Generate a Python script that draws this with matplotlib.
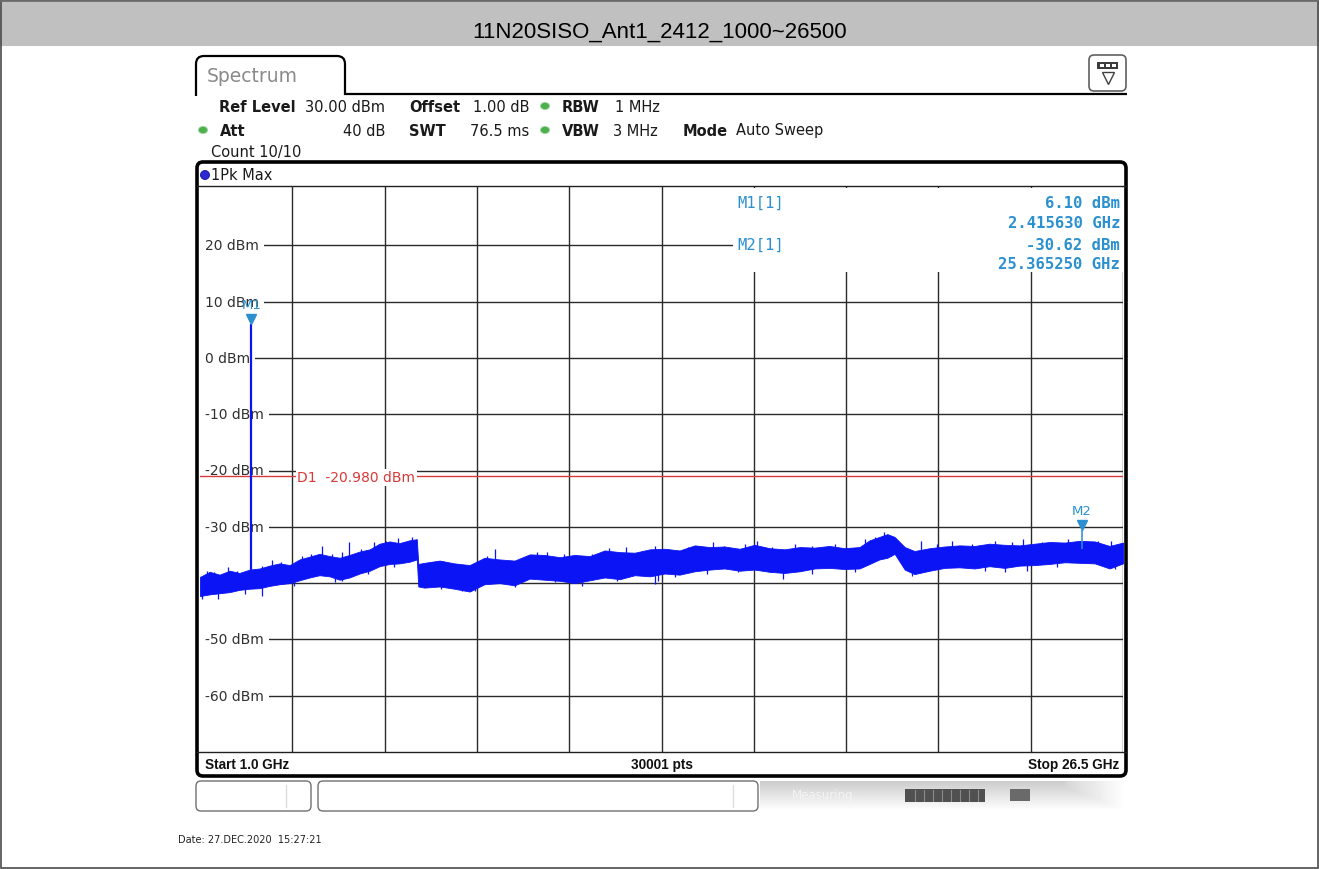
import numpy as np
import matplotlib.pyplot as plt
import matplotlib.transforms as mtransforms
from matplotlib.patches import Rectangle, FancyBboxPatch, Ellipse, PathPatch
from matplotlib.path import Path

# ---- data ----
start_ghz, stop_ghz = 1.0, 26.5
n_points = 30001
ref_level_dbm = 30.0
y_levels = [20, 10, 0, -10, -20, -30, -40, -50, -60]

# envelope of the peak-hold trace (GHz, dBm)
trace_ghz = [1.00, 1.27, 1.54, 1.82, 2.09, 2.37, 2.65, 2.92, 3.20, 3.48, 3.75, 4.03,
             4.30, 4.58, 4.86, 5.13, 5.41, 5.69, 5.96, 6.24, 6.51, 6.79, 6.99,
             7.03, 7.20, 7.62, 8.03, 8.45, 8.86, 9.28, 9.69, 10.11, 10.52, 10.94,
             11.35, 11.77, 12.18, 12.60, 13.01, 13.43,
             13.84, 14.25, 14.67, 15.08, 15.49, 15.91, 16.32, 16.74, 17.15, 17.57,
             17.98, 18.39, 18.81, 19.22, 19.50, 19.77, 19.99,
             20.19, 20.47, 20.74, 21.16, 21.57, 21.98, 22.40, 22.81, 23.23, 23.64,
             24.06, 24.47, 24.89, 25.30, 25.72, 26.13, 26.50]
trace_top = [-38.9, -38.0, -38.5, -37.8, -38.2, -37.6, -37.4, -36.9, -36.5, -36.8, -35.8, -35.3,
             -34.8, -35.2, -35.5, -35.0, -34.4, -34.0, -33.0, -32.6, -32.9, -32.4, -32.2,
             -36.6, -36.4, -36.0, -36.5, -36.8, -35.5, -35.8, -36.0, -34.9, -35.0, -35.4,
             -35.0, -35.2, -34.2, -34.5, -34.6, -34.0,
             -33.9, -34.2, -33.3, -33.6, -33.5, -33.9, -33.2, -33.8, -34.0, -33.6,
             -33.7, -33.4, -33.8, -33.6, -32.4, -31.8, -31.3,
             -31.8, -33.6, -34.3, -33.8, -33.5, -33.3, -33.4, -33.0, -33.2, -33.3,
             -33.0, -32.7, -32.8, -32.5, -32.6, -33.4, -32.8]
trace_bottom = [-42.3, -42.0, -41.8, -41.6, -41.2, -41.0, -40.9, -40.5, -40.2, -40.0, -39.5, -39.0,
                -38.6, -38.8, -39.4, -39.0, -38.3, -37.8, -37.0, -36.6, -36.5, -36.2, -35.8,
                -40.6, -40.8, -40.6, -41.0, -41.5, -40.2, -40.0, -40.4, -39.2, -39.4, -39.6,
                -40.0, -39.5, -39.0, -39.3, -38.6, -38.8,
                -38.3, -38.5, -37.9, -37.6, -37.4, -37.8, -37.6, -38.0, -38.2, -37.9,
                -37.4, -37.3, -37.5, -37.4, -36.6, -35.8, -35.5,
                -34.8, -37.6, -38.4, -37.8, -37.3, -37.2, -37.4, -37.0, -37.3, -36.9,
                -36.8, -36.6, -36.3, -36.4, -36.5, -37.4, -36.5]

# noise spikes poking out of the band
spike_ghz = [1.18, 1.40, 1.77, 2.01, 2.70, 2.98, 3.25, 3.81, 4.08, 4.36, 4.64, 4.91,
             5.13, 5.46, 5.82, 6.15, 6.46, 6.85,
             7.40, 7.70, 8.12, 8.92, 9.14, 9.41, 9.88, 10.30, 10.60, 11.07, 11.40, 11.84,
             12.31, 12.78, 13.20, 13.56,
             13.92, 14.47, 14.80, 15.16, 15.49, 16.05, 16.38, 16.79, 17.43, 17.90, 18.53,
             18.86, 19.36, 19.64, 19.91,
             20.10, 20.93, 21.37, 21.77, 22.32, 22.96, 23.42, 23.73, 24.25, 24.97, 25.80, 26.18]
spike_dbm = [-37.8, -38.0, -37.1, -37.8, -36.9, -35.9, -36.2, -35.2, -34.8, -33.4, -34.8, -34.5,
             -32.7, -33.9, -32.7, -32.5, -32.0, -31.8,
             -36.2, -36.1, -36.6, -35.2, -33.9, -36.1, -36.1, -34.5, -34.5, -34.8, -35.3, -34.8,
             -33.8, -33.6, -34.3, -33.4,
             -33.9, -33.6, -33.4, -32.7, -33.4, -33.0, -32.5, -33.6, -33.0, -33.4, -33.0,
             -33.6, -32.1, -31.8, -31.0,
             -31.6, -32.5, -33.0, -32.5, -33.0, -32.5, -32.7, -32.2, -32.7, -32.2, -32.5, -32.5]
dip_ghz = [1.05, 1.49, 2.23, 2.70, 3.61, 4.72, 4.91, 5.63, 6.37,
           7.67, 8.23, 8.59, 9.70, 10.80, 11.54, 12.53, 13.56,
           13.64, 14.11, 15.02, 15.85, 17.10, 17.90, 19.09,
           20.66, 21.10, 22.68, 23.23, 23.86, 24.69, 26.27]
dip_dbm = [-42.8, -42.8, -41.9, -42.3, -40.5, -39.8, -39.6, -38.4, -37.1,
           -41.0, -41.4, -41.4, -40.7, -39.8, -40.5, -39.6, -40.1,
           -39.6, -38.9, -38.4, -38.0, -39.3, -38.4, -38.0,
           -38.7, -37.8, -37.8, -38.0, -37.8, -37.1, -37.5]

m1_ghz, m1_dbm, m1_base_dbm = 2.415630, 6.10, -38.5
m2_ghz, m2_dbm, m2_base_dbm = 25.365250, -30.62, -34.0
d1_dbm = -20.980

# ---- layout (pixels) ----
W, H = 1319, 870
GX0, GX1, GY0, GY1 = 200, 1123, 188, 753
TRACE = '#0a14f5'
MARK = '#2a90d0'

fig = plt.figure(figsize=(W / 100, H / 100), dpi=100)
bg = fig.add_axes([0, 0, 1, 1])
ax = fig.add_axes([GX0 / W, 1 - GY1 / H, (GX1 - GX0) / W, (GY1 - GY0) / H], zorder=2)
top = fig.add_axes([0, 0, 1, 1], zorder=5)
for a in (bg, top):
    a.set_xlim(0, W)
    a.set_ylim(H, 0)
    a.axis('off')

# page frame + title band
bg.add_patch(Rectangle((0, 0), W, 47, fc='#c0c0c0', ec='none'))
bg.add_patch(Rectangle((0.5, 0.5), W - 1.5, H - 1.5, fc='none', ec='#4a4a4a', lw=1.2))
bg.plot([0, W], [1, 1], color='#6a6a6a', lw=2)
bg.text(660, 32, '11N20SISO_Ant1_2412_1000~26500', ha='center', va='center',
        fontsize=16, family='Liberation Sans', color='black')

# spectrum tab
verts = [(196, 97), (196, 65), (196, 57), (204, 57), (337, 57), (345, 57), (345, 65),
         (345, 95), (1127, 95)]
codes = [Path.MOVETO, Path.LINETO, Path.CURVE3, Path.CURVE3, Path.LINETO, Path.CURVE3,
         Path.CURVE3, Path.LINETO, Path.LINETO]
bg.add_patch(PathPatch(Path(verts, codes), fc='none', ec='black', lw=1.6))
bg.text(207, 77, 'Spectrum', fontsize=13.5, color='#8a8a8a', va='center')

# top-right icon
bg.add_patch(FancyBboxPatch((1089, 56), 37, 36, boxstyle='round,pad=0,rounding_size=5',
                            fc='white', ec='#606060', lw=1.2))
bg.add_patch(Rectangle((1097, 63), 21, 7, fc='#3c3c3c', ec='none'))
for xx in (1100, 1106, 1112):
    bg.add_patch(Rectangle((xx, 65), 3.5, 3, fc='white', ec='none'))
bg.plot([1107.5], [79], marker='v', ms=9, mfc='white', mec='#404040', mew=1)

# header parameters
fs = 10.5
def hdr(x, y, s, bold=False, ha='left'):
    bg.text(x, y, s, fontsize=fs, fontweight='bold' if bold else 'normal', ha=ha,
            va='center', color='#1a1a1a', family='DejaVu Sans')

def dot(x, y):
    bg.add_patch(Ellipse((x, y), 9, 7, fc='#4cb04c', ec='#9ad09a', lw=0.6))

hdr(219, 107, 'Ref Level', True)
hdr(305, 107, '30.00 dBm')
hdr(409, 107, 'Offset', True)
hdr(473, 107, '1.00 dB')
dot(545, 107)
hdr(562, 107, 'RBW', True)
hdr(615, 107, '1 MHz')
dot(203, 131)
hdr(220, 131, 'Att', True)
hdr(385, 131, '40 dB', ha='right')
hdr(409, 131, 'SWT', True)
hdr(470, 131, '76.5 ms')
dot(545, 131)
hdr(562, 131, 'VBW', True)
hdr(613, 131, '3 MHz')
hdr(683, 131, 'Mode', True)
hdr(736, 131, 'Auto Sweep')
hdr(211, 152, 'Count 10/10')

# trace window frame
bg.add_patch(FancyBboxPatch((197, 163), 1126 - 197, 777 - 163,
                            boxstyle='round,pad=0,rounding_size=6',
                            fc='white', ec='black', lw=2.6))
bg.plot([197, 1126], [187, 187], color='#202020', lw=1)
bg.add_patch(Ellipse((205, 176), 9, 9, fc='#2a2ad0', ec='#1010a0', lw=0.6))
hdr(211, 176, '1Pk Max')

# bottom info row
bg.plot([197, 1126], [GY1, GY1], color='#202020', lw=1)
cond = dict(fontsize=9.8, fontweight='bold', va='center', color='#111111',
            family='Liberation Sans')
top.text(205, 765, f'Start {start_ghz:.1f} GHz', ha='left', **cond)
top.text((GX0 + GX1) / 2, 765, f'{n_points} pts', ha='center', **cond)
top.text(1119, 765, f'Stop {stop_ghz:.1f} GHz', ha='right', **cond)

# status bar
bg.add_patch(FancyBboxPatch((196, 782), 115, 30, boxstyle='round,pad=0,rounding_size=5',
                            fc='white', ec='#707070', lw=1))
bg.plot([286, 286], [786, 808], color='#dddddd', lw=1)
bg.add_patch(FancyBboxPatch((318, 782), 440, 30, boxstyle='round,pad=0,rounding_size=5',
                            fc='white', ec='#707070', lw=1))
bg.plot([733, 733], [786, 808], color='#dddddd', lw=1)
grad = np.linspace(0.8, 1.0, 30)[:, None] * np.ones((1, 60))
grad[:, 50:] = np.maximum(grad[:, 50:], np.linspace(0.85, 1.0, 10)[None, :])
bg.imshow(grad, extent=(760, 1127, 812, 782), origin='upper', cmap='gray', vmin=0, vmax=1,
          aspect='auto', zorder=1)
bg.set_xlim(0, W)
bg.set_ylim(H, 0)
bg.text(792, 796, 'Measuring...', fontsize=8.5, color='#f4f4f4', va='center', zorder=2)
bg.add_patch(Rectangle((905, 790), 80, 13, fc='#505050', ec='none', zorder=2))
for xx in range(915, 985, 9):
    bg.plot([xx, xx], [791, 802], color='#8a8a8a', lw=0.8, zorder=3)
bg.add_patch(Rectangle((1010, 790), 20, 12, fc='#6a6a6a', ec='none', zorder=2))

bg.text(178, 840, 'Date: 27.DEC.2020  15:27:21', fontsize=7, va='center', color='#222222')

# ---- the measurement grid ----
ax.set_xlim(start_ghz, stop_ghz)
ax.set_ylim(-70, ref_level_dbm + 2 / 5.63)
ax.axis('off')
for f in np.linspace(start_ghz, stop_ghz, 11)[1:]:
    ax.axvline(f, color='#2a2a2a', lw=1, zorder=1)
for v in y_levels:
    ax.axhline(v, color='#2a2a2a', lw=1, zorder=1)
    ax.annotate(f'{v} dBm', xy=(0, v), xycoords=('axes fraction', 'data'),
                xytext=(3.8, 0), textcoords='offset points', va='center', ha='left',
                fontsize=10, color='#303030', zorder=2,
                bbox=dict(boxstyle='square,pad=0.36', fc='white', ec='none'))

# display line D1
ax.axhline(d1_dbm, color='#d83a3a', lw=1, zorder=3)
ax.annotate(f'D1  {d1_dbm:.3f} dBm', xy=(0, d1_dbm), xycoords=('axes fraction', 'data'),
            xytext=(70, -1), textcoords='offset points', va='center', ha='left',
            fontsize=10, color='#d83a3a', zorder=4,
            bbox=dict(boxstyle='square,pad=0.1', fc='white', ec='none'))

# trace
ax.fill_between(trace_ghz, trace_bottom, trace_top, color=TRACE, lw=0.6, zorder=5)
ax.vlines(spike_ghz, np.array(spike_dbm) - 3.5, spike_dbm, color=TRACE, lw=0.9, zorder=5)
ax.vlines(dip_ghz, dip_dbm, np.array(dip_dbm) + 3.5, color=TRACE, lw=0.9, zorder=5)
ax.vlines([m1_ghz], [m1_base_dbm], [m1_dbm], color=TRACE, lw=1.6, zorder=5)
ax.vlines([m2_ghz], [m2_base_dbm], [m2_dbm], color=MARK, lw=1.1, zorder=5)

# markers
lift = mtransforms.offset_copy(ax.transData, fig=fig, x=0, y=5, units='dots')
for name, f, v in (('M1', m1_ghz, m1_dbm), ('M2', m2_ghz, m2_dbm)):
    ax.plot([f], [v], marker='v', ms=7.5, color=MARK, transform=lift, zorder=7, clip_on=False)
    ax.annotate(name, xy=(f, v), xytext=(0, 14), textcoords='offset points', ha='center',
                va='center', fontsize=9.5, color=MARK, zorder=7)

# marker readout table
top.add_patch(Rectangle((733, 189), GX1 - 733, 84, fc='white', ec='none', zorder=1))
mono = dict(family='DejaVu Sans Mono', fontsize=11.2, color=MARK, va='center', zorder=2)
top.text(737, 203, 'M1[1]', ha='left', **mono)
top.text(1120, 203, f'{m1_dbm:.2f} dBm', ha='right', fontweight='bold', **mono)
top.text(1120, 223, f'{m1_ghz:.6f} GHz', ha='right', fontweight='bold', **mono)
top.text(737, 245, 'M2[1]', ha='left', **mono)
top.text(1120, 245, f'{m2_dbm:.2f} dBm', ha='right', fontweight='bold', **mono)
top.text(1120, 265, f'{m2_ghz:.6f} GHz', ha='right', fontweight='bold', **mono)

fig.savefig('out.png', dpi=100)
